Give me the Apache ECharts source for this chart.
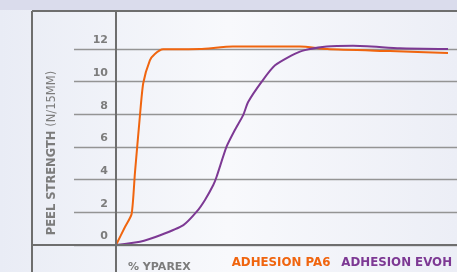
<!DOCTYPE html>
<html>
<head>
<meta charset="utf-8">
<script src="https://cdn.jsdelivr.net/npm/echarts@6/dist/echarts.min.js"></script>
<style>
  html, body { margin: 0; padding: 0; }
  #chart { width: 457px; height: 272px; }
</style>
</head>
<body>
<div id="chart"></div>
<script>
// Peel strength vs % Yparex
const yTicks = [0, 2, 4, 6, 8, 10, 12]
const pa6X = [0, 2.7, 4.7, 5.7, 7.2, 8.2, 10.2, 11.7, 14.2, 25.3, 35.2, 55.4, 63.6, 82.5, 100]
const pa6Y = [0, 1.1, 1.9, 4.4, 7.9, 9.9, 11.3, 11.7, 11.98, 12.0, 12.15, 12.15, 12.0, 11.87, 11.75]
const evohX = [0, 7.2, 13.3, 20.3, 24.3, 26.8, 29.3, 30.3, 33.3, 35.8, 38.3, 39.8, 43.9, 47.9, 55.4, 63.5, 71.4, 85.5, 100]
const evohY = [0, 0.2, 0.6, 1.22, 2.04, 2.76, 3.67, 4.18, 6.02, 7.04, 7.95, 8.75, 10, 11.0, 11.84, 12.15, 12.2, 12.05, 12.0]

const ORANGE = "#f0650f"
const PURPLE = "#7d3994"
const GREY = "#7c7c7c"
const LINE = "#6e6e6e"
const FONT = "DejaVu Sans"

const pairs = (xs, ys) => xs.map((x, i) => [x, ys[i]])

const chart = echarts.init(document.getElementById("chart"), null, { renderer: "canvas" })

chart.setOption({
  backgroundColor: {
    type: "linear", x: 0, y: 0, x2: 1, y2: 0,
    colorStops: [
      { offset: 0, color: "#e9ecf5" },
      { offset: 0.5, color: "#f8f9fc" },
      { offset: 1, color: "#eceef6" },
    ],
  },
  animation: false,
  textStyle: { fontFamily: FONT },
  title: {
    text: "% YPAREX",
    left: 123, top: 257,
    textStyle: { color: GREY, fontSize: 11, fontWeight: "bold", fontFamily: FONT },
  },
  legend: {
    right: 5, top: 256,
    icon: "none", itemWidth: 0, itemGap: 6, padding: 0,
    data: [
      { name: "ADHESION PA6", textStyle: { color: ORANGE } },
      { name: "ADHESION EVOH", textStyle: { color: PURPLE } },
    ],
    textStyle: { fontSize: 11.8, fontWeight: "bold", fontFamily: FONT },
  },
  grid: { left: 74, right: 0, top: 49, bottom: 27 },
  xAxis: {
    type: "value", min: -12.65, max: 102.71,
    axisLine: { show: false }, axisTick: { show: false },
    axisLabel: { show: false }, splitLine: { show: false },
  },
  yAxis: {
    type: "value", min: yTicks[0], max: yTicks[yTicks.length - 1], interval: 2,
    offset: -42,
    axisLine: { show: false }, axisTick: { show: false },
    axisLabel: {
      color: GREY, fontSize: 11, fontWeight: "bold", fontFamily: FONT,
      margin: 8, verticalAlign: "bottom", padding: [0, 0, 3, 0],
    },
    splitLine: { lineStyle: { color: "#949494", width: 1.3 } },
    name: "{b|PEEL STRENGTH} {n|(N/15MM)}",
    nameLocation: "middle", nameGap: 58, nameRotate: 90,
    nameTextStyle: {
      padding: [0, 12, 0, 0],
      rich: {
        b: { color: GREY, fontSize: 11.5, fontWeight: "bold", fontFamily: FONT },
        n: { color: GREY, fontSize: 11.5, fontFamily: FONT },
      },
    },
  },
  series: [
    {
      name: "ADHESION PA6", type: "line", data: pairs(pa6X, pa6Y),
      smooth: 0.2, symbol: "none", clip: false,
      lineStyle: { color: ORANGE, width: 2 }, itemStyle: { color: ORANGE }, z: 3,
    },
    {
      name: "ADHESION EVOH", type: "line", data: pairs(evohX, evohY),
      smooth: 0.2, symbol: "none", clip: false,
      lineStyle: { color: PURPLE, width: 2 }, itemStyle: { color: PURPLE }, z: 4,
    },
  ],
})

// frame and axes, placed from the chart's own scale
const origin = chart.convertToPixel({ gridIndex: 0 }, [0, 0])
const W = chart.getWidth(), H = chart.getHeight()
const frameTop = 11, frameLeft = 32
const seg = (x1, y1, x2, y2) => ({
  type: "line", silent: true, z: 10,
  shape: { x1, y1, x2, y2 },
  style: { stroke: LINE, lineWidth: 2 },
})
chart.setOption({
  graphic: [
    { type: "rect", silent: true, shape: { x: 0, y: 0, width: W, height: 10 }, style: { fill: "#dadcec" } },
    seg(frameLeft, frameTop, W, frameTop),
    seg(frameLeft, frameTop, frameLeft, H),
    seg(origin[0], frameTop, origin[0], H),
    seg(frameLeft, origin[1], W, origin[1]),
  ],
})
</script>
</body>
</html>
